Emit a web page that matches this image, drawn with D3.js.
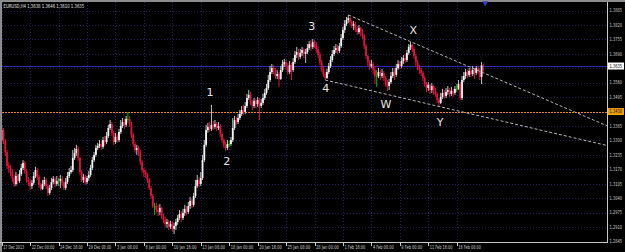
<!DOCTYPE html>
<html>
<head>
<meta charset="utf-8">
<script src="https://cdn.jsdelivr.net/npm/d3@7"></script>
<style>
  html, body { margin: 0; padding: 0; background: #000; overflow: hidden; }
  svg text { font-family: "DejaVu Sans", sans-serif; }
</style>
</head>
<body>
<div id="chart"></div>
<script>
// ---- data ----
const header = "EURUSD,H4  1.3638 1.3646 1.3610 1.3635";

const dateLabels = ["17 Dec 2013", "22 Dec 00:00", "24 Dec 16:00", "29 Dec 08:00", "3 Jan 08:00",
  "6 Jan 00:00", "10 Jan 16:00", "13 Jan 08:00", "18 Jan 00:00", "20 Jan 16:00", "25 Jan 08:00",
  "28 Jan 00:00", "1 Feb 16:00", "4 Feb 08:00", "9 Feb 00:00", "11 Feb 16:00", "16 Feb 08:00"];
const barsPerLabel = 16;

const priceTicks = [1.3885, 1.3820, 1.3755, 1.3690, 1.3560, 1.3495, 1.3365, 1.3300,
  1.3235, 1.3170, 1.3105, 1.3040, 1.2975, 1.2910, 1.2845];
const gridPrices = [1.3885, 1.3820, 1.3755, 1.3690, 1.3625, 1.3560, 1.3495, 1.3430, 1.3365, 1.3300,
  1.3235, 1.3170, 1.3105, 1.3040, 1.2975, 1.2910, 1.2845];

const firstOpen = 1.3302;
const closes = [
  1.3347, 1.3298, 1.3248, 1.3185, 1.3176, 1.3158, 1.3131, 1.3104, 1.3140, 1.3118,
  1.3149, 1.3176, 1.3199, 1.3163, 1.3122, 1.3113, 1.3095, 1.3109, 1.3140, 1.3167,
  1.3136, 1.3100, 1.3082, 1.3104, 1.3122, 1.3095, 1.3064, 1.3086, 1.3113, 1.3127,
  1.3104, 1.3118, 1.3118, 1.3127, 1.3109, 1.3086, 1.3113, 1.3140, 1.3158, 1.3167,
  1.3221, 1.3244, 1.3262, 1.3221, 1.3158, 1.3122, 1.3136, 1.3113, 1.3131, 1.3145,
  1.3176, 1.3212, 1.3235, 1.3266, 1.3275, 1.3284, 1.3271, 1.3302, 1.3293, 1.3320,
  1.3356, 1.3374, 1.3334, 1.3293, 1.3316, 1.3302, 1.3338, 1.3365, 1.3383, 1.3370,
  1.3397, 1.3397, 1.3374, 1.3325, 1.3284, 1.3257, 1.3266, 1.3248, 1.3203, 1.3167,
  1.3158, 1.3145, 1.3122, 1.3086, 1.3050, 1.3005, 1.3005, 1.2987, 1.2978, 1.2996,
  1.2960, 1.2942, 1.2924, 1.2933, 1.2911, 1.2924, 1.2902, 1.2915, 1.2933, 1.2951,
  1.2969, 1.2951, 1.2974, 1.2992, 1.2978, 1.3005, 1.3028, 1.3010, 1.3050, 1.3095,
  1.3122, 1.3104, 1.3131, 1.3212, 1.3280, 1.3347, 1.3361, 1.3352, 1.3370, 1.3361,
  1.3374, 1.3356, 1.3365, 1.3329, 1.3302, 1.3280, 1.3266, 1.3284, 1.3284, 1.3302,
  1.3356, 1.3392, 1.3383, 1.3401, 1.3419, 1.3437, 1.3428, 1.3455, 1.3491, 1.3505,
  1.3473, 1.3455, 1.3478, 1.3464, 1.3482, 1.3455, 1.3469, 1.3491, 1.3514, 1.3536,
  1.3572, 1.3608, 1.3626, 1.3613, 1.3590, 1.3599, 1.3577, 1.3617, 1.3644, 1.3653,
  1.3635, 1.3608, 1.3640, 1.3617, 1.3653, 1.3685, 1.3698, 1.3676, 1.3694, 1.3707,
  1.3689, 1.3698, 1.3716, 1.3734, 1.3721, 1.3743, 1.3730, 1.3712, 1.3685, 1.3653,
  1.3626, 1.3599, 1.3581, 1.3608, 1.3635, 1.3662, 1.3689, 1.3707, 1.3716, 1.3703,
  1.3725, 1.3761, 1.3797, 1.3824, 1.3842, 1.3851, 1.3833, 1.3815, 1.3824, 1.3802,
  1.3788, 1.3806, 1.3793, 1.3770, 1.3725, 1.3680, 1.3653, 1.3635, 1.3644, 1.3617,
  1.3590, 1.3590, 1.3608, 1.3590, 1.3604, 1.3581, 1.3554, 1.3545, 1.3563, 1.3590,
  1.3608, 1.3595, 1.3626, 1.3644, 1.3635, 1.3658, 1.3671, 1.3662, 1.3694, 1.3721,
  1.3730, 1.3712, 1.3680, 1.3653, 1.3631, 1.3617, 1.3604, 1.3581, 1.3554, 1.3536,
  1.3550, 1.3527, 1.3545, 1.3523, 1.3509, 1.3482, 1.3469, 1.3496, 1.3514, 1.3500,
  1.3518, 1.3527, 1.3509, 1.3523, 1.3514, 1.3532, 1.3532, 1.3554, 1.3491, 1.3572,
  1.3590, 1.3608, 1.3595, 1.3613, 1.3599, 1.3617, 1.3604, 1.3626, 1.3613, 1.3586,
  1.3638, 1.3635];
const highs = [
  1.3370, 1.3356, 1.3307, 1.3257, 1.3203, 1.3190, 1.3172, 1.3145, 1.3158, 1.3149,
  1.3167, 1.3194, 1.3212, 1.3208, 1.3172, 1.3136, 1.3127, 1.3122, 1.3158, 1.3181,
  1.3176, 1.3145, 1.3109, 1.3122, 1.3136, 1.3131, 1.3104, 1.3100, 1.3131, 1.3140,
  1.3136, 1.3140, 1.3131, 1.3145, 1.3140, 1.3118, 1.3131, 1.3158, 1.3176, 1.3185,
  1.3257, 1.3266, 1.3280, 1.3275, 1.3226, 1.3167, 1.3149, 1.3145, 1.3140, 1.3163,
  1.3190, 1.3226, 1.3248, 1.3280, 1.3289, 1.3302, 1.3298, 1.3316, 1.3320, 1.3338,
  1.3370, 1.3392, 1.3383, 1.3343, 1.3334, 1.3329, 1.3352, 1.3392, 1.3401, 1.3397,
  1.3410, 1.3428, 1.3410, 1.3383, 1.3334, 1.3293, 1.3280, 1.3275, 1.3257, 1.3212,
  1.3176, 1.3167, 1.3154, 1.3131, 1.3095, 1.3059, 1.3019, 1.3019, 1.3010, 1.3014,
  1.3001, 1.2969, 1.2956, 1.2947, 1.2942, 1.2938, 1.2933, 1.2929, 1.2947, 1.2965,
  1.2987, 1.2983, 1.2992, 1.3010, 1.3005, 1.3023, 1.3046, 1.3037, 1.3064, 1.3122,
  1.3145, 1.3136, 1.3158, 1.3235, 1.3302, 1.3370, 1.3379, 1.3383, 1.3460, 1.3388,
  1.3392, 1.3383, 1.3383, 1.3374, 1.3338, 1.3311, 1.3293, 1.3302, 1.3298, 1.3316,
  1.3401, 1.3410, 1.3406, 1.3419, 1.3437, 1.3455, 1.3460, 1.3473, 1.3509, 1.3527,
  1.3518, 1.3482, 1.3491, 1.3487, 1.3496, 1.3491, 1.3487, 1.3509, 1.3532, 1.3554,
  1.3595, 1.3635, 1.3644, 1.3640, 1.3626, 1.3617, 1.3608, 1.3635, 1.3662, 1.3667,
  1.3662, 1.3649, 1.3658, 1.3649, 1.3671, 1.3703, 1.3721, 1.3712, 1.3712, 1.3721,
  1.3716, 1.3712, 1.3734, 1.3748, 1.3752, 1.3757, 1.3752, 1.3743, 1.3725, 1.3698,
  1.3662, 1.3635, 1.3608, 1.3622, 1.3649, 1.3680, 1.3707, 1.3725, 1.3734, 1.3730,
  1.3739, 1.3779, 1.3811, 1.3842, 1.3856, 1.3865, 1.3856, 1.3842, 1.3838, 1.3833,
  1.3815, 1.3820, 1.3811, 1.3802, 1.3779, 1.3734, 1.3685, 1.3662, 1.3662, 1.3653,
  1.3635, 1.3617, 1.3626, 1.3617, 1.3622, 1.3613, 1.3590, 1.3572, 1.3577, 1.3608,
  1.3626, 1.3626, 1.3644, 1.3662, 1.3658, 1.3676, 1.3685, 1.3689, 1.3707, 1.3734,
  1.3743, 1.3734, 1.3721, 1.3689, 1.3662, 1.3640, 1.3626, 1.3613, 1.3590, 1.3563,
  1.3563, 1.3554, 1.3559, 1.3550, 1.3536, 1.3518, 1.3491, 1.3514, 1.3532, 1.3527,
  1.3536, 1.3545, 1.3536, 1.3541, 1.3532, 1.3545, 1.3554, 1.3572, 1.3563, 1.3590,
  1.3608, 1.3622, 1.3617, 1.3626, 1.3626, 1.3635, 1.3626, 1.3635, 1.3635, 1.3626,
  1.3653, 1.3646];
const lows = [
  1.3293, 1.3284, 1.3230, 1.3172, 1.3154, 1.3140, 1.3113, 1.3091, 1.3095, 1.3104,
  1.3109, 1.3140, 1.3167, 1.3149, 1.3109, 1.3095, 1.3077, 1.3082, 1.3100, 1.3131,
  1.3122, 1.3086, 1.3073, 1.3077, 1.3095, 1.3082, 1.3050, 1.3055, 1.3077, 1.3104,
  1.3091, 1.3095, 1.3095, 1.3086, 1.3095, 1.3077, 1.3077, 1.3104, 1.3131, 1.3149,
  1.3158, 1.3212, 1.3230, 1.3208, 1.3145, 1.3113, 1.3109, 1.3100, 1.3104, 1.3118,
  1.3136, 1.3167, 1.3203, 1.3226, 1.3257, 1.3266, 1.3257, 1.3262, 1.3275, 1.3284,
  1.3311, 1.3347, 1.3320, 1.3280, 1.3284, 1.3289, 1.3293, 1.3329, 1.3356, 1.3352,
  1.3361, 1.3379, 1.3361, 1.3311, 1.3271, 1.3244, 1.3235, 1.3230, 1.3190, 1.3154,
  1.3136, 1.3131, 1.3109, 1.3077, 1.3037, 1.2996, 1.2965, 1.2974, 1.2960, 1.2965,
  1.2947, 1.2929, 1.2911, 1.2906, 1.2897, 1.2902, 1.2888, 1.2879, 1.2897, 1.2920,
  1.2942, 1.2933, 1.2942, 1.2960, 1.2965, 1.2969, 1.2992, 1.2996, 1.3001, 1.3041,
  1.3086, 1.3091, 1.3095, 1.3122, 1.3203, 1.3271, 1.3334, 1.3338, 1.3343, 1.3347,
  1.3352, 1.3343, 1.3347, 1.3316, 1.3289, 1.3266, 1.3253, 1.3257, 1.3271, 1.3275,
  1.3293, 1.3347, 1.3370, 1.3374, 1.3392, 1.3410, 1.3415, 1.3419, 1.3446, 1.3482,
  1.3460, 1.3437, 1.3446, 1.3446, 1.3451, 1.3392, 1.3446, 1.3460, 1.3482, 1.3505,
  1.3527, 1.3563, 1.3599, 1.3599, 1.3577, 1.3577, 1.3541, 1.3572, 1.3608, 1.3631,
  1.3617, 1.3595, 1.3599, 1.3572, 1.3608, 1.3644, 1.3671, 1.3662, 1.3667, 1.3680,
  1.3671, 1.3649, 1.3689, 1.3707, 1.3703, 1.3712, 1.3716, 1.3694, 1.3671, 1.3640,
  1.3608, 1.3586, 1.3572, 1.3577, 1.3599, 1.3626, 1.3653, 1.3680, 1.3694, 1.3689,
  1.3694, 1.3716, 1.3752, 1.3784, 1.3815, 1.3829, 1.3820, 1.3806, 1.3797, 1.3788,
  1.3775, 1.3779, 1.3770, 1.3757, 1.3712, 1.3667, 1.3635, 1.3617, 1.3626, 1.3599,
  1.3554, 1.3541, 1.3581, 1.3572, 1.3581, 1.3568, 1.3541, 1.3523, 1.3527, 1.3554,
  1.3581, 1.3572, 1.3586, 1.3617, 1.3622, 1.3626, 1.3644, 1.3649, 1.3653, 1.3685,
  1.3707, 1.3698, 1.3667, 1.3635, 1.3617, 1.3599, 1.3590, 1.3568, 1.3541, 1.3518,
  1.3523, 1.3509, 1.3514, 1.3505, 1.3496, 1.3469, 1.3451, 1.3464, 1.3487, 1.3487,
  1.3491, 1.3505, 1.3496, 1.3500, 1.3496, 1.3505, 1.3518, 1.3527, 1.3482, 1.3482,
  1.3563, 1.3577, 1.3581, 1.3586, 1.3586, 1.3590, 1.3577, 1.3595, 1.3599, 1.3572,
  1.3554, 1.3610];

const bidPrice = 1.3635;
const levelPrice = 1.3430;

// wave counts: text, bar position, price position
const waveTexts = ["1", "2", "3", "4", "W", "X", "Y"];
const waveBars = [117.2, 126.6, 174.4, 182.3, 216.2, 231.6, 246.6];
const wavePrices = [1.3518, 1.3205, 1.3812, 1.3536, 1.3460, 1.3793, 1.3379];

// trend rays: two anchor points each
const upperRayBars = [195, 230];
const upperRayPrices = [1.3865, 1.3745];
const lowerRayBars = [182, 246];
const lowerRayPrices = [1.3572, 1.3453];

// ---- chart ----
const W = 625, H = 252;
const plot = {left: 2, top: 2, right: 607, bottom: 242};
const smallFont = 5.5;

const svg = d3.select('#chart').append('svg')
    .attr('width', W)
    .attr('height', H)
    .style('display', 'block')
    .style('background', '#000');

// bar index -> x, price -> y
const xScale = d3.scaleLinear()
    .domain([0, barsPerLabel * (dateLabels.length - 1)])
    .range([1.7, 456.7]);
const yScale = d3.scaleLinear()
    .domain([1.2845, 1.3885])
    .range([241.5, 10.5]);

const bars = closes.map((c, i) => ({
  i: i,
  o: i === 0 ? firstOpen : closes[i - 1],
  h: highs[i],
  l: lows[i],
  c: c
}));

// squeeze a small text horizontally into the width the terminal font takes
function squeeze(sel, x, y, width) {
  sel.each(function(d, k) {
    const node = this;
    const natural = node.getComputedTextLength();
    const w = typeof width === 'function' ? width(d, k) : width;
    const xx = typeof x === 'function' ? x(d, k) : x;
    const yy = typeof y === 'function' ? y(d, k) : y;
    const s = natural > 0 ? Math.min(1, w / natural) : 1;
    d3.select(node).attr('x', 0).attr('y', 0)
      .attr('transform', `translate(${xx},${yy}) scale(${s},1)`);
  });
}

svg.append('clipPath').attr('id', 'plotclip')
  .append('rect')
    .attr('x', plot.left).attr('y', plot.top)
    .attr('width', plot.right - plot.left).attr('height', plot.bottom - plot.top);

// frame
svg.append('rect').attr('x', 0).attr('y', 0).attr('width', W).attr('height', 2).attr('fill', '#8c8c8c');
svg.append('rect').attr('x', 0).attr('y', 0).attr('width', 2).attr('height', H).attr('fill', '#8c8c8c');

// grid
const grid = svg.append('g').attr('class', 'grid').attr('shape-rendering', 'crispEdges');
grid.selectAll('.hgrid')
  .data(gridPrices)
  .join('line')
    .attr('class', 'hgrid')
    .attr('x1', plot.left).attr('x2', plot.right)
    .attr('y1', d => Math.round(yScale(d)) + 0.5)
    .attr('y2', d => Math.round(yScale(d)) + 0.5)
    .attr('stroke', '#20205e')
    .attr('stroke-dasharray', '1,2');
grid.selectAll('.vgrid')
  .data(dateLabels)
  .join('line')
    .attr('class', 'vgrid')
    .attr('x1', (d, k) => Math.round(xScale(k * barsPerLabel)) + 0.5)
    .attr('x2', (d, k) => Math.round(xScale(k * barsPerLabel)) + 0.5)
    .attr('y1', plot.top).attr('y2', plot.bottom)
    .attr('stroke', '#20205e')
    .attr('stroke-dasharray', '1,2');

const chart = svg.append('g').attr('clip-path', 'url(#plotclip)');

// level and bid lines
chart.append('line')
    .attr('x1', plot.left).attr('x2', plot.right)
    .attr('y1', Math.round(yScale(levelPrice)) + 0.5).attr('y2', Math.round(yScale(levelPrice)) + 0.5)
    .attr('stroke', '#e88a00')
    .attr('stroke-dasharray', '2,1')
    .attr('shape-rendering', 'crispEdges');
chart.append('line')
    .attr('x1', plot.left).attr('x2', plot.right)
    .attr('y1', Math.round(yScale(bidPrice)) + 0.5).attr('y2', Math.round(yScale(bidPrice)) + 0.5)
    .attr('stroke', '#2a2ab0')
    .attr('shape-rendering', 'crispEdges');

// candles
const bullColor = '#f4f4f4', bullWick = '#c0c0c0', bearColor = '#dc143c', dojiColor = '#00c000';
const candleColor = d => d.c > d.o ? bullColor : d.c < d.o ? bearColor : dojiColor;
const wickColor = d => d.c > d.o ? bullWick : d.c < d.o ? bearColor : dojiColor;

chart.selectAll('.wick')
  .data(bars)
  .join('line')
    .attr('class', 'wick')
    .attr('x1', d => xScale(d.i)).attr('x2', d => xScale(d.i))
    .attr('y1', d => yScale(d.h)).attr('y2', d => yScale(d.l))
    .attr('stroke', wickColor)
    .attr('stroke-width', 1);

chart.selectAll('.body')
  .data(bars)
  .join('rect')
    .attr('class', 'body')
    .attr('x', d => xScale(d.i) - 0.9)
    .attr('width', 1.8)
    .attr('y', d => yScale(Math.max(d.o, d.c)))
    .attr('height', d => Math.max(0.8, Math.abs(yScale(d.o) - yScale(d.c))))
    .attr('fill', candleColor);

// trend rays, extended to the right edge
const rightBar = xScale.invert(plot.right);
function ray(barsArr, pricesArr) {
  const slope = (pricesArr[1] - pricesArr[0]) / (barsArr[1] - barsArr[0]);
  return [[barsArr[0], pricesArr[0]], [rightBar, pricesArr[0] + slope * (rightBar - barsArr[0])]];
}
const line = d3.line().x(d => xScale(d[0])).y(d => yScale(d[1]));
[ray(upperRayBars, upperRayPrices), ray(lowerRayBars, lowerRayPrices)].forEach(r => {
  chart.append('path')
      .attr('d', line(r))
      .attr('fill', 'none')
      .attr('stroke', '#b4b4b4')
      .attr('stroke-width', 1)
      .attr('stroke-dasharray', '3,2');
});

// wave labels
chart.selectAll('.wave')
  .data(waveTexts)
  .join('text')
    .attr('class', 'wave')
    .attr('x', (d, k) => xScale(waveBars[k]))
    .attr('y', (d, k) => yScale(wavePrices[k]))
    .attr('text-anchor', 'middle')
    .attr('dominant-baseline', 'central')
    .attr('fill', '#e8e8e8')
    .attr('font-size', 11)
    .text(d => d);

// header
svg.append('text')
    .attr('fill', '#e0e0e0')
    .attr('font-size', smallFont)
    .text(header)
    .call(squeeze, 3.5, 7.5, 81);

// chart shift marker
svg.append('path')
    .attr('d', d3.symbol(d3.symbolTriangle, 14)())
    .attr('transform', `translate(${xScale(272)},3) rotate(180)`)
    .attr('fill', '#3a3ad0');

// axes lines
const axisColor = '#c8c8c8';
svg.append('line')
    .attr('x1', plot.right + 0.5).attr('x2', plot.right + 0.5)
    .attr('y1', plot.top).attr('y2', plot.bottom + 0.5)
    .attr('stroke', axisColor).attr('shape-rendering', 'crispEdges');
svg.append('line')
    .attr('x1', 0).attr('x2', plot.right + 0.5)
    .attr('y1', plot.bottom + 0.5).attr('y2', plot.bottom + 0.5)
    .attr('stroke', axisColor).attr('shape-rendering', 'crispEdges');

// price axis labels
svg.selectAll('.ptick')
  .data(priceTicks)
  .join('text')
    .attr('class', 'ptick')
    .attr('dominant-baseline', 'central')
    .attr('fill', '#d0d0d0')
    .attr('font-size', smallFont)
    .text(d => d.toFixed(4))
    .call(squeeze, 609.5, d => yScale(d), 12.5);

// bid and level price boxes
function priceBox(price, bg, fg) {
  const yy = yScale(price);
  svg.append('rect')
      .attr('x', plot.right + 1).attr('y', yy - 3.5)
      .attr('width', 16).attr('height', 7)
      .attr('fill', bg);
  svg.append('text')
      .attr('dominant-baseline', 'central')
      .attr('fill', fg)
      .attr('font-size', smallFont)
      .text(price.toFixed(4))
      .call(squeeze, 609.5, yy, 12.5);
}
priceBox(bidPrice, '#ffffff', '#000000');
priceBox(levelPrice, '#f0a000', '#000000');

// time axis
const timeAxis = svg.append('g');
timeAxis.selectAll('.tmark')
  .data(dateLabels)
  .join('line')
    .attr('class', 'tmark')
    .attr('x1', (d, k) => Math.round(xScale(k * barsPerLabel)) + 0.5)
    .attr('x2', (d, k) => Math.round(xScale(k * barsPerLabel)) + 0.5)
    .attr('y1', plot.bottom).attr('y2', plot.bottom + 4)
    .attr('stroke', axisColor).attr('shape-rendering', 'crispEdges');
timeAxis.selectAll('.tlabel')
  .data(dateLabels)
  .join('text')
    .attr('class', 'tlabel')
    .attr('fill', '#d0d0d0')
    .attr('font-size', smallFont)
    .text(d => d)
    .call(squeeze, (d, k) => xScale(k * barsPerLabel) + 1.5, 248.5, d => d.length * 1.9);
</script>
</body>
</html>
